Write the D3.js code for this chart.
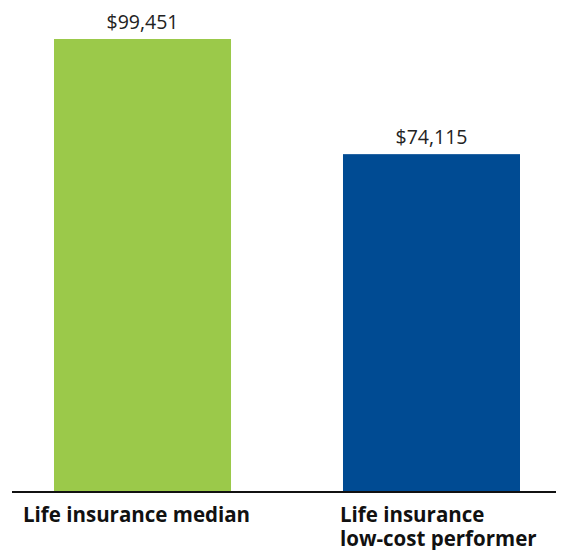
<!DOCTYPE html>
<html>
<head>
<meta charset="utf-8">
<script src="https://cdn.jsdelivr.net/npm/d3@7"></script>
<style>
  html, body { margin: 0; padding: 0; background: #fff; }
  svg { display: block; }
</style>
</head>
<body>
<svg id="chart" width="564" height="550"></svg>
<script>
// Annual cost comparison
const categories = ["Life insurance median", "Life insurance low-cost performer"];
const labelLines = [["Life insurance median"], ["Life insurance", "low-cost performer"]];
const values = [99451, 74115];
const colors = ["#9bc94a", "#004b93"];

const svg = d3.select("#chart");
const baseY = 491;

const x = d3.scaleBand()
  .domain(categories)
  .range([54, 520])
  .paddingInner(0.3875)
  .paddingOuter(0);

const y = d3.scaleLinear()
  .domain([0, d3.max(values)])
  .range([baseY, 39]);

const fmt = v => "$" + d3.format(",")(v);

// bars
svg.selectAll("rect.bar")
  .data(values)
  .join("rect")
  .attr("class", "bar")
  .attr("x", (d, i) => x(categories[i]))
  .attr("y", d => y(d))
  .attr("width", x.bandwidth())
  .attr("height", d => baseY - y(d))
  .attr("fill", (d, i) => colors[i]);

// value labels
svg.selectAll("text.value")
  .data(values)
  .join("text")
  .attr("class", "value")
  .attr("x", (d, i) => x(categories[i]) + x.bandwidth() / 2)
  .attr("y", d => y(d) - 10)
  .attr("text-anchor", "middle")
  .attr("font-family", "'Open Sans', 'Noto Sans', sans-serif")
  .attr("font-size", 19.5)
  .attr("fill", "#222")
  .text(d => fmt(d));

// baseline
svg.append("line")
  .attr("x1", 12).attr("x2", 556)
  .attr("y1", baseY + 1).attr("y2", baseY + 1)
  .attr("stroke", "#111")
  .attr("stroke-width", 2);

// category labels
const labelOffsets = [-31, -3];
const cat = svg.selectAll("text.cat")
  .data(categories)
  .join("text")
  .attr("class", "cat")
  .attr("font-family", "'Open Sans', 'Noto Sans', sans-serif")
  .attr("font-weight", "bold")
  .attr("font-size", 20.5)
  .attr("fill", "#111");

cat.each(function(d, i) {
  const t = d3.select(this);
  labelLines[i].forEach((line, j) => {
    t.append("tspan")
      .attr("x", x(d) + labelOffsets[i])
      .attr("y", 522 + j * 24)
      .text(line);
  });
});
</script>
</body>
</html>
